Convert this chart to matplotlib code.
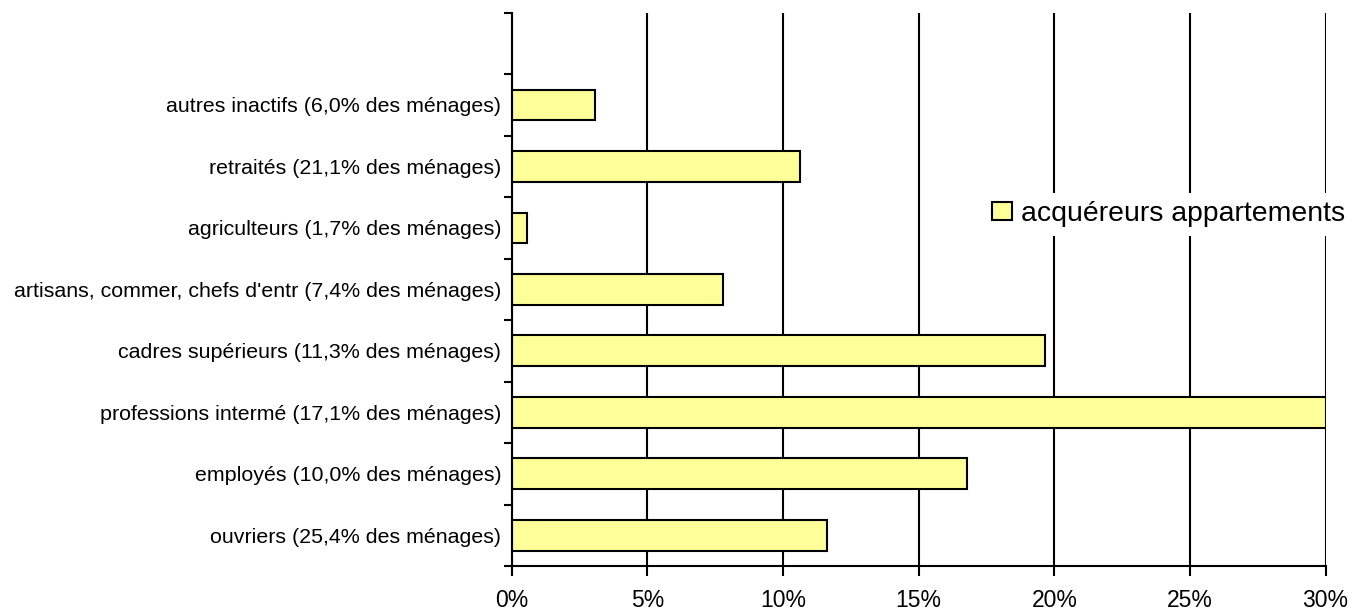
import matplotlib
matplotlib.use("Agg")
import matplotlib.pyplot as plt
from matplotlib.ticker import FixedLocator, FuncFormatter

plt.rcParams['font.family'] = ['Liberation Sans', 'DejaVu Sans']

categories = [
    "ouvriers (25,4% des ménages)",
    "employés (10,0% des ménages)",
    "professions intermé (17,1% des ménages)",
    "cadres supérieurs (11,3% des ménages)",
    "artisans, commer, chefs d'entr (7,4% des ménages)",
    "agriculteurs (1,7% des ménages)",
    "retraités (21,1% des ménages)",
    "autres inactifs (6,0% des ménages)",
]
values = [11.63, 16.79, 30.0, 19.66, 7.77, 0.55, 10.63, 3.07]
series_name = "acquéreurs appartements"
xticks = [0, 5, 10, 15, 20, 25, 30]

fig = plt.figure(figsize=(13.54, 6.11), dpi=100)
ax = fig.add_axes([0.378, 0.0736, 0.601, 0.9056])

pos = list(range(len(categories)))
ax.barh(pos, values, height=0.5, color="#FFFF99", edgecolor="black",
        linewidth=1.5, label=series_name, zorder=3)

ax.set_xlim(0, 30)
ax.set_ylim(-0.5, len(categories) + 0.5)
ax.set_xticks(xticks)
ax.xaxis.set_major_formatter(FuncFormatter(lambda v, p: f"{v:.0f}%"))
ax.grid(axis='x', color='black', linewidth=1.5, zorder=1)

ax.set_yticks(pos)
ax.set_yticklabels(categories, fontsize=15.4)
ax.yaxis.set_minor_locator(FixedLocator([i - 0.5 for i in range(len(categories) + 2)]))
ax.tick_params(axis='y', which='major', length=0, pad=7.5)
ax.tick_params(axis='y', which='minor', length=6, width=1.5, direction='out')
ax.tick_params(axis='x', which='major', length=7, width=1.5, direction='out',
               labelsize=16.5, pad=9.5)

for s in ['top', 'right']:
    ax.spines[s].set_visible(False)
for s in ['left', 'bottom']:
    ax.spines[s].set_linewidth(1.5)
    ax.spines[s].set_zorder(4)

leg = ax.legend(loc='center left', bbox_to_anchor=(0.58, 0.636), fontsize=20.4,
                frameon=True, fancybox=False, edgecolor='none', facecolor='white',
                framealpha=1, handlelength=0.7, handleheight=0.62,
                handletextpad=0.3, borderpad=0.3, borderaxespad=0)
leg.set_zorder(5)

fig.savefig("out.png", dpi=100)
